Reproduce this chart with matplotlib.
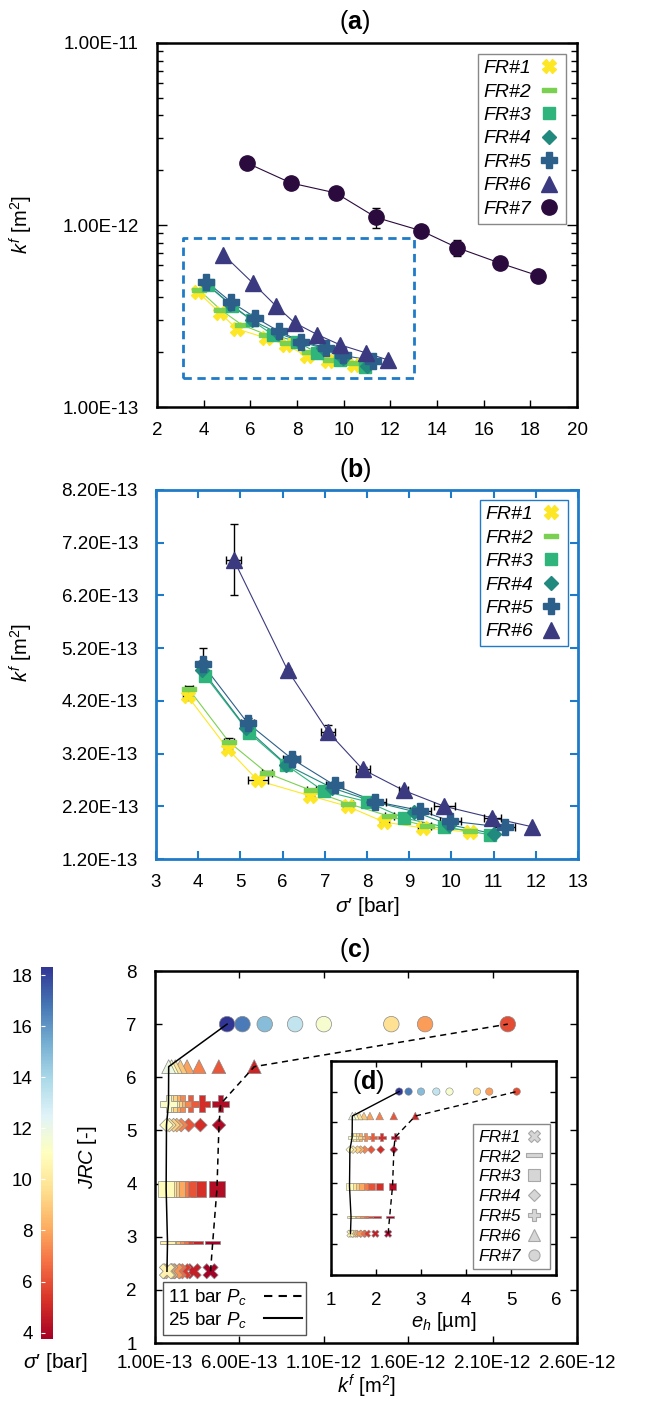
import numpy as np
import matplotlib
matplotlib.use('Agg')
import matplotlib.pyplot as plt
from matplotlib.path import Path
from matplotlib.lines import Line2D
import matplotlib.colors as mcolors
import matplotlib.cm as cm

plt.rcParams['font.family'] = ['Liberation Sans', 'DejaVu Sans']
plt.rcParams['mathtext.fontset'] = 'custom'
plt.rcParams['mathtext.rm'] = 'Liberation Sans'
plt.rcParams['mathtext.it'] = 'Liberation Sans:italic'
plt.rcParams['mathtext.bf'] = 'Liberation Sans:bold'

# data: effective stress sigma' [bar], permeability k^f [x1e-13 m^2]
labels = ['FR#1', 'FR#2', 'FR#3', 'FR#4', 'FR#5', 'FR#6', 'FR#7']
sig1 = [3.75, 4.70, 5.41, 6.65, 7.54, 8.41, 9.32, 10.45]
k1 = [4.29, 3.29, 2.69, 2.40, 2.20, 1.90, 1.79, 1.71]
sig2 = [3.78, 4.73, 5.63, 6.68, 7.56, 8.53, 9.41, 10.43]
k2 = [4.42, 3.42, 2.83, 2.50, 2.25, 2.01, 1.82, 1.74]
sig3 = [4.17, 5.21, 6.07, 6.97, 7.99, 8.87, 9.83, 10.92]
k3 = [4.67, 3.59, 2.99, 2.49, 2.29, 1.98, 1.81, 1.66]
sig4 = [4.09, 5.13, 6.09, 7.17, 8.14, 9.12, 9.95, 11.00]
k4 = [4.79, 3.69, 2.99, 2.55, 2.29, 2.10, 1.85, 1.68]
sig5 = [4.11, 5.17, 6.22, 7.23, 8.19, 9.26, 9.97, 11.26]
k5 = [4.89, 3.78, 3.10, 2.60, 2.29, 2.12, 1.92, 1.80]
sig6 = [4.84, 6.12, 7.08, 7.90, 8.87, 9.83, 10.97, 11.92]
k6 = [6.88, 4.78, 3.61, 2.90, 2.50, 2.20, 1.98, 1.81]
sig7 = [5.86, 7.75, 9.66, 11.39, 13.32, 14.87, 16.69, 18.32]
k7 = [21.9, 17.0, 15.0, 11.0, 9.3, 7.5, 6.18, 5.27]

# error bars (x in bar, y in 1e-13 m^2)
xerr1 = [0.10, 0.10, 0.24, 0.10, 0.10, 0.10, 0.10, 0.10]
yerr1 = [0.08, 0.05, 0.05, 0.03, 0.02, 0.02, 0.02, 0.02]
xerr2 = [0.10, 0.12, 0.12, 0.10, 0.10, 0.10, 0.10, 0.10]
yerr2 = [0.07, 0.07, 0.03, 0.03, 0.02, 0.02, 0.02, 0.02]
xerr5 = [0.10, 0.15, 0.20, 0.20, 0.25, 0.25, 0.25, 0.25]
yerr5 = [0.32, 0.10, 0.08, 0.04, 0.03, 0.03, 0.03, 0.03]
xerr6 = [0.18, 0.00, 0.17, 0.16, 0.10, 0.25, 0.20, 0.00]
yerr6 = [0.68, 0.03, 0.13, 0.05, 0.03, 0.03, 0.03, 0.00]
yerr7 = [0.0, 0.0, 0.0, 1.4, 0.0, 0.75, 0.0, 0.0]

jrc = [2.35, 2.9, 3.9, 5.1, 5.5, 6.2, 7.0]

sigs = [sig1, sig2, sig3, sig4, sig5, sig6, sig7]
ks = [np.array(k) * 1e-13 for k in [k1, k2, k3, k4, k5, k6, k7]]
xerrs = [xerr1, xerr2, None, None, xerr5, xerr6, None]
yerrs = [yerr1, yerr2, None, None, yerr5, yerr6, yerr7]

colors = ['#fde725', '#7ad151', '#2fb47c', '#21897e', '#2c5f8a', '#3b3a80', '#2b0a3e']


def bar_path(h):
    return Path([(-1, -h), (1, -h), (1, h), (-1, h), (-1, -h)],
                [Path.MOVETO, Path.LINETO, Path.LINETO, Path.LINETO, Path.CLOSEPOLY])


bar = bar_path(0.2)
bar_thick = bar_path(0.3)
markers = ['X', bar, 's', 'D', 'P', '^', 'o']
markers_ab = ['X', bar_thick, 's', 'D', 'P', '^', 'o']
msizes = [10, 10, 9, 7, 11, 11, 11]

box_x = (3.1, 13.0)
box_y = (1.45e-13, 8.45e-13)
blue = '#1f7bc8'
TS = 13.5   # tick label size
LS = 14.5   # axis label size

W, H = 646, 1401
fig = plt.figure(figsize=(W / 100, H / 100), dpi=100)


def rect(l, t, r, b):
    return [l / W, 1 - b / H, (r - l) / W, (b - t) / H]


def sci(v):
    return f'{v:.2E}'


# ---------------- (a) ----------------
axa = fig.add_axes(rect(157, 43, 577, 407))
for i in range(7):
    axa.plot(sigs[i], ks[i], color=colors[i], lw=0.8, zorder=2)
    axa.plot(sigs[i], ks[i], ls='none', marker=markers_ab[i], ms=msizes[i],
             color=colors[i], mec=colors[i], zorder=3, label=labels[i])
axa.errorbar(sig7, ks[6], yerr=np.array(yerr7) * 1e-13, fmt='none',
             ecolor='black', elinewidth=1, capsize=3, zorder=2)
axa.plot([box_x[0], box_x[1], box_x[1], box_x[0], box_x[0]],
         [box_y[0], box_y[0], box_y[1], box_y[1], box_y[0]],
         ls=(0, (3, 2)), color=blue, lw=2, zorder=1)
axa.set_yscale('log')
axa.set_xlim(2, 20)
axa.set_ylim(1e-13, 1e-11)
axa.set_xticks(np.arange(2, 21, 2))
axa.set_yticks([1e-13, 1e-12, 1e-11])
axa.set_yticklabels([sci(v) for v in [1e-13, 1e-12, 1e-11]])
axa.tick_params(axis='both', which='both', direction='in', labelsize=TS,
                right=True, width=1)
axa.tick_params(axis='y', which='major', length=7, pad=13)
axa.tick_params(axis='y', which='minor', length=4)
axa.tick_params(axis='x', length=5, pad=10.5)
axa.set_ylabel(r'$k^f$ [m$^2$]', fontsize=LS)
axa.yaxis.set_label_coords(-0.29, 0.5)
for s in axa.spines.values():
    s.set_linewidth(1.8)
leg = axa.legend(loc='upper right', markerfirst=False,
                 prop={'style': 'italic', 'size': 14}, handlelength=1.2,
                 handletextpad=0.3, labelspacing=0.3, borderaxespad=0.55,
                 fancybox=False, edgecolor='#888888', framealpha=1,
                 borderpad=0.3)
leg.get_frame().set_linewidth(1)

# ---------------- (b) ----------------
axb = fig.add_axes(rect(156, 490, 578, 859))
for i in range(6):
    axb.plot(sigs[i], ks[i], color=colors[i], lw=0.8, zorder=2)
    if xerrs[i] is not None:
        axb.errorbar(sigs[i], ks[i], xerr=xerrs[i], yerr=np.array(yerrs[i]) * 1e-13,
                     fmt='none', ecolor='black', elinewidth=1, capsize=3, zorder=2.5)
    axb.plot(sigs[i], ks[i], ls='none', marker=markers_ab[i], ms=msizes[i],
             color=colors[i], mec=colors[i], zorder=3, label=labels[i])
axb.set_xlim(3, 13)
axb.set_ylim(1.2e-13, 8.2e-13)
axb.set_xticks(np.arange(3, 14, 1))
yt = np.arange(1.2, 8.3, 1.0) * 1e-13
axb.set_yticks(yt)
axb.set_yticklabels([sci(v) for v in yt])
axb.tick_params(axis='both', direction='in', labelsize=TS, top=True,
                right=True, color=blue, width=1.5, length=6)
axb.tick_params(axis='y', pad=13)
axb.tick_params(axis='x', pad=11)
for s in axb.spines.values():
    s.set_linewidth(2)
    s.set_color(blue)
axb.set_ylabel(r'$k^f$ [m$^2$]', fontsize=LS)
axb.yaxis.set_label_coords(-0.287, 0.56)
axb.set_xlabel(r"$\sigma$′ [bar]", fontsize=LS + 0.5, labelpad=3)
leg = axb.legend(loc='upper right', markerfirst=False,
                 prop={'style': 'italic', 'size': 14}, handlelength=1.2,
                 handletextpad=0.3, labelspacing=0.3, borderaxespad=0.5,
                 fancybox=False, edgecolor=blue, framealpha=1, borderpad=0.3)
leg.get_frame().set_linewidth(1)

# ---------------- (c) ----------------
allsig = np.concatenate([np.array(s) for s in sigs])
norm = mcolors.Normalize(vmin=allsig.min(), vmax=allsig.max())
cmap = plt.get_cmap('RdYlBu')
csizes = [120, 116, 125, 48, 150, 100, 125]
dsizes = [28, 33, 30, 16, 34, 30, 28]

axc = fig.add_axes(rect(155, 971, 577, 1343))
lo_k = [k.min() for k in ks]
hi_k = [k.max() for k in ks]
axc.plot(lo_k, jrc, color='black', lw=1.1, zorder=5)
axc.plot(hi_k, jrc, color='black', lw=1.1, ls=(0, (4, 3)), zorder=5)
for i in range(7):
    axc.scatter(ks[i], [jrc[i]] * len(ks[i]), c=sigs[i], cmap=cmap, norm=norm,
                marker=markers[i], s=csizes[i], edgecolors='#8a8a8a',
                linewidths=0.5, zorder=3)
axc.set_xlim(1e-13, 2.6e-12)
axc.set_ylim(1, 8)
xt = np.arange(1e-13, 2.7e-12, 5e-13)
axc.set_xticks(xt)
axc.set_xticklabels([sci(v) for v in xt])
axc.set_yticks(range(1, 9))
axc.tick_params(axis='both', direction='in', labelsize=TS, top=True,
                right=True, width=1, length=5)
axc.tick_params(axis='y', pad=13)
axc.tick_params(axis='x', pad=9)
for s in axc.spines.values():
    s.set_linewidth(1.8)
axc.set_ylabel(r'$JRC$ [-]', fontsize=LS)
axc.yaxis.set_label_coords(-0.133, 0.5)
axc.set_xlabel(r'$k^f$ [m$^2$]', fontsize=LS, labelpad=0)
hs = [Line2D([], [], color='black', lw=1.5, ls=(0, (4, 3))),
      Line2D([], [], color='black', lw=1.5)]
leg = axc.legend(hs, ['11 bar $P_c$', '25 bar $P_c$'], loc='lower left',
                 fontsize=13.5, handlelength=2.0, handletextpad=0.9,
                 labelspacing=0.15, borderaxespad=0.45, fancybox=False,
                 edgecolor='#555555', framealpha=1, borderpad=0.25)
# put text first, line second
for vp in leg._legend_box._children[1]._children[0]._children:
    vp._children.reverse()
leg.get_frame().set_linewidth(1)

# ---------------- colorbar ----------------
cax = fig.add_axes(rect(41, 967, 53, 1339))
cb = fig.colorbar(cm.ScalarMappable(norm=norm, cmap=cmap), cax=cax,
                  ticks=np.arange(4, 19, 2))
cb.outline.set_visible(False)
cax.yaxis.set_ticks_position('left')
cax.tick_params(direction='in', length=3, color='white', labelsize=TS, pad=6)
fig.text(55 / W, 1 - 1363 / H, r"$\sigma$′ [bar]", ha='center', va='center',
         fontsize=LS + 0.5)

# ---------------- (d) inset ----------------
axd = fig.add_axes(rect(331, 1061, 556, 1275))
eh = [np.sqrt(12 * k) * 1e6 for k in ks]
axd.plot([e.min() for e in eh], jrc, color='black', lw=1.0, zorder=5)
axd.plot([e.max() for e in eh], jrc, color='black', lw=1.0, ls=(0, (4, 3)), zorder=5)
for i in range(7):
    axd.scatter(eh[i], [jrc[i]] * len(eh[i]), c=sigs[i], cmap=cmap, norm=norm,
                marker=markers[i], s=dsizes[i], edgecolors='#8a8a8a',
                linewidths=0.4, zorder=3)
axd.set_xlim(1, 6)
axd.set_ylim(1, 8)
axd.set_xticks(range(1, 7))
axd.set_yticks(range(1, 9))
axd.set_yticklabels([])
axd.tick_params(axis='both', direction='in', labelsize=TS, top=True,
                right=True, width=1, length=4)
axd.tick_params(axis='x', pad=12)
for s in axd.spines.values():
    s.set_linewidth(1.8)
axd.set_xlabel(r'$e_h$ [µm]', fontsize=LS, labelpad=1)
axd.text(0.165, 0.90, r'($\mathbf{d}$)', transform=axd.transAxes, fontsize=18,
         ha='center', va='center')
hs = [Line2D([], [], ls='none', marker=markers_ab[i], ms=[8, 11, 8, 6, 8, 8, 8][i],
             mfc='#d6d6d6', mec='#a8a8a8', mew=0.8) for i in range(7)]
leg = axd.legend(hs, labels, loc='lower right', markerfirst=False,
                 prop={'style': 'italic', 'size': 12.5}, handlelength=1.2,
                 handletextpad=0.2, labelspacing=0.27, borderaxespad=0.35,
                 fancybox=False, edgecolor='#888888', framealpha=1,
                 borderpad=0.3)
leg.get_frame().set_linewidth(1)

# ---------------- titles ----------------
for lab, y in [('a', 22), ('b', 470), ('c', 950)]:
    fig.text(355 / W, 1 - y / H, r'($\mathbf{' + lab + '}$)', ha='center',
             va='center', fontsize=18)

fig.savefig('out.png', dpi=100)
